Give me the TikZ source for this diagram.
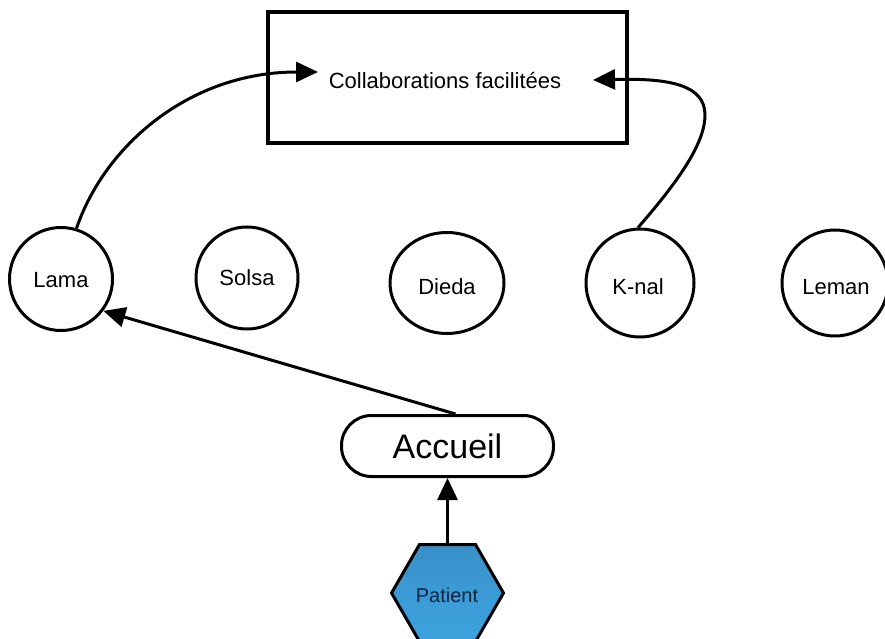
\documentclass[tikz,border=0pt]{standalone}
\usepackage{fontspec}
\setmainfont{Liberation Sans}
\usetikzlibrary{shapes.geometric,arrows.meta,calc}
\definecolor{hexblue}{HTML}{3B9AD5}
\definecolor{hextop}{HTML}{3A90C8}
\definecolor{hexbot}{HTML}{3DA3DD}
\definecolor{navy}{HTML}{10233F}
\tikzset{
  member/.style={draw, circle, line width=3pt, inner sep=0pt, font=\fontsize{22}{24}\selectfont},
  link/.style={line width=3pt, -{Triangle[length=22pt,width=20pt]}},
}
\begin{document}
\begin{tikzpicture}[x=1pt, y=-1pt]
\useasboundingbox (0,0) rectangle (885,639);

% goal box
\node (goal) [draw, line width=3.5pt, minimum width=359pt, minimum height=131pt, inner sep=0pt] at (447.5,77.5) {};
\node (goaltxt) [font=\fontsize{22}{24}\selectfont] at (445,81) {Collaborations facilitées};

% partner structures
\node (lama)  [member, minimum size=103pt] at (61,279)  {};
\node at (61,280) {\fontsize{22}{24}\selectfont Lama};
\node (solsa) [member, minimum size=102pt] at (247,278) {};
\node at (247,278) {\fontsize{22}{24}\selectfont Solsa};
\node (dieda) [draw, ellipse, line width=3pt, minimum width=114pt, minimum height=101pt, inner sep=0pt] at (447,283) {};
\node at (447,287) {\fontsize{22}{24}\selectfont Dieda};
\node (knal)  [member, minimum size=108pt] at (640,283) {};
\node at (638,287) {\fontsize{22}{24}\selectfont K-nal};
\node (leman) [member, minimum size=106pt] at (835,283) {};
\node at (836,287) {\fontsize{22}{24}\selectfont Leman};

% reception and patient
\node (acc) [draw, line width=3pt, rounded corners=30pt, minimum width=212pt, minimum height=61pt, inner sep=0pt] at (447.5,446) {};
\node at (447.5,446) {\fontsize{34}{36}\selectfont Accueil};
\node (pat) [draw, regular polygon, regular polygon sides=6, line width=3pt, minimum size=112pt, inner sep=0pt,
             top color=hextop, bottom color=hexbot, middle color=hexblue] at (447.5,593) {};
\node at (447,595) {\color{navy}\fontsize{20}{22}\selectfont Patient};

% arrow ends inside the goal box
\coordinate (inL) at (318,72);
\coordinate (inR) at (593,80);

% connectors
\draw[link] (pat.north) -- (acc.south);
\draw[link] ($(acc.north)+(8,0)$) -- (lama.-37);
\draw[link] (lama.73) .. controls (105,145) and (190,72) .. (inL);
\draw[link] (knal.92) .. controls (675,185) and (705,145) .. (705,115)
            .. controls (705,85) and (670,78) .. (inR);
\end{tikzpicture}
\end{document}
